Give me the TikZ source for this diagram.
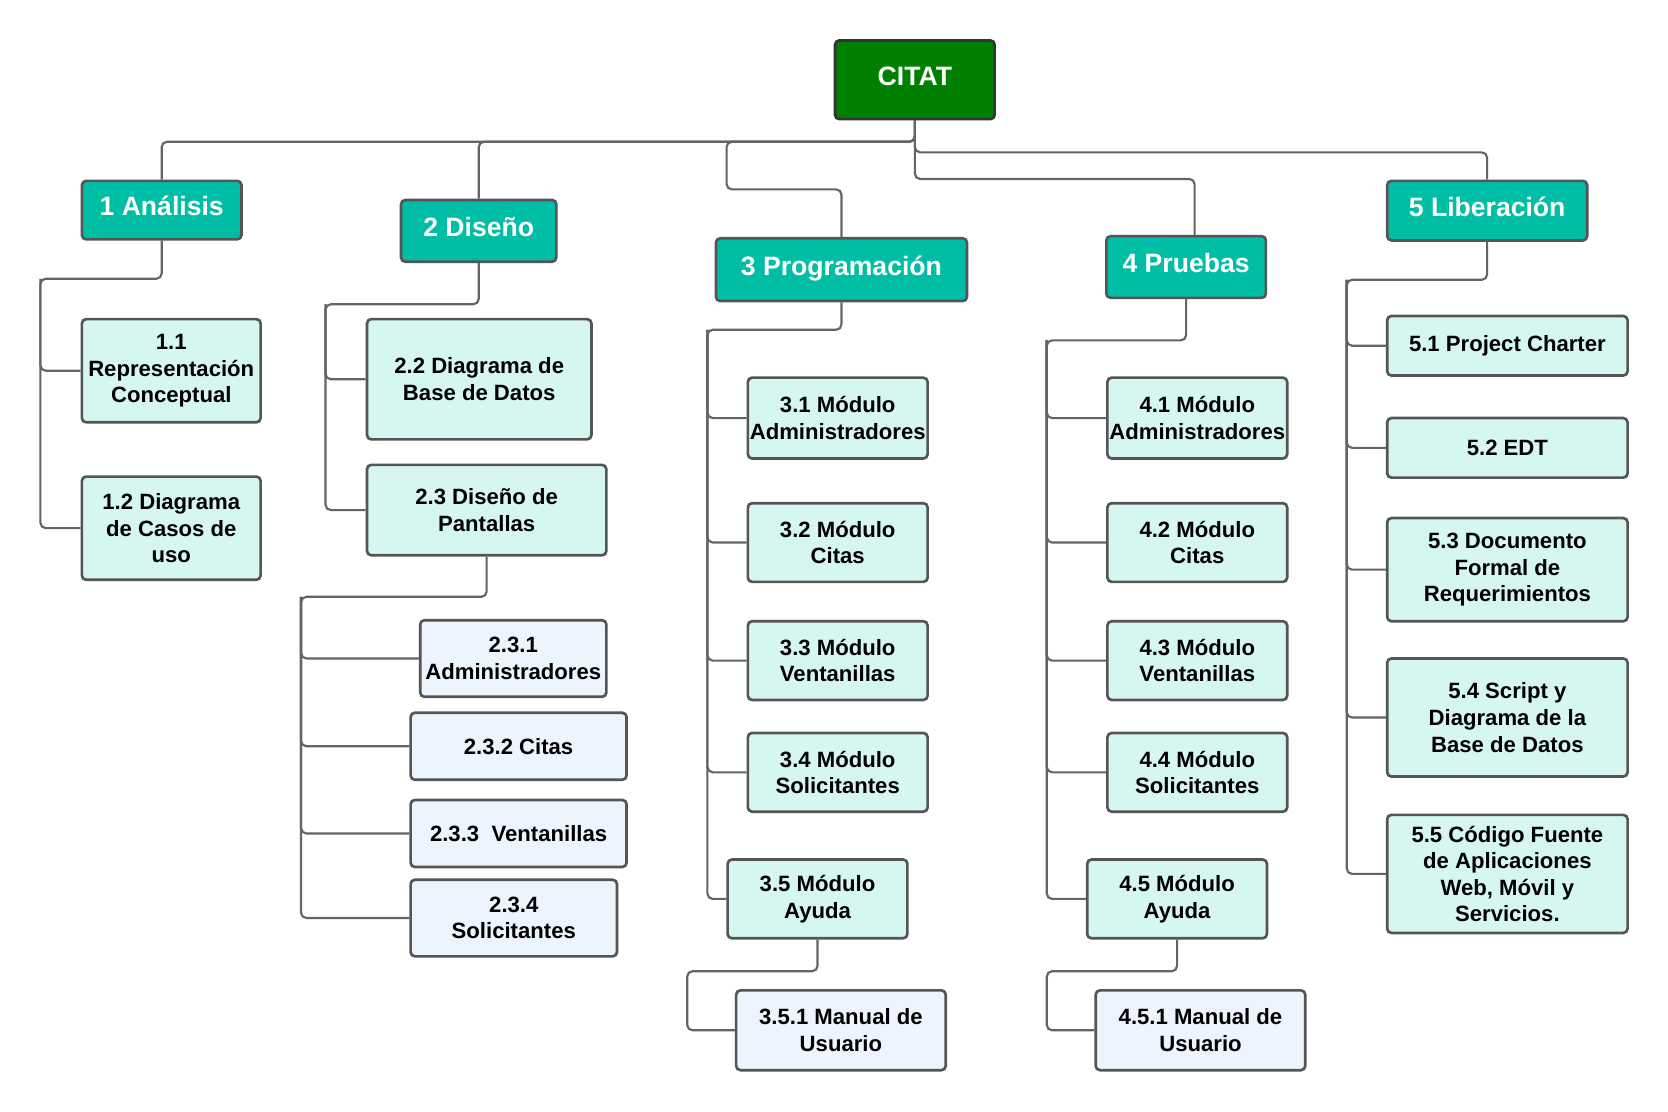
\documentclass[tikz,border=0pt]{standalone}
\usepackage{fontspec}
\setmainfont{Liberation Sans}
\usetikzlibrary{calc}
\definecolor{rootgreen}{RGB}{0,128,0}
\definecolor{tealone}{RGB}{0,190,165}
\definecolor{minttwo}{RGB}{214,247,241}
\definecolor{palethree}{RGB}{236,244,253}
\definecolor{bordergray}{RGB}{85,85,85}
\definecolor{linegray}{RGB}{100,100,100}
\tikzset{
  box/.style={draw=bordergray, line width=2.5pt, rounded corners=4pt, align=center, inner sep=0pt,
    font=\bfseries\fontsize{20.8}{25}\selectfont, text=black},
  rootbox/.style={box, fill=rootgreen, draw=black!80, text=white, font=\bfseries\fontsize{25}{30}\selectfont,
    text height=18pt, text depth=7pt},
  lvlone/.style={box, fill=tealone, text=white, font=\bfseries\fontsize{25}{30}\selectfont,
    text height=18pt, text depth=7pt},
  lvltwo/.style={box, fill=minttwo},
  lvlthree/.style={box, fill=palethree},
  conn/.style={draw=linegray, line width=2pt, rounded corners=5pt},
}
\begin{document}
\begin{tikzpicture}[x=1pt,y=-1pt]
\fill[white] (0,0) rectangle (1568,1045);
\useasboundingbox (0,0) rectangle (1568,1045);

% root and level 1
\node[rootbox, minimum width=150pt, minimum height=74pt] (root) at (860,75) {CITAT};
\node[lvlone, minimum width=150pt, minimum height=55pt] (a1) at (152,197.5) {1 Análisis};
\node[lvlone, minimum width=146pt, minimum height=58pt] (a2) at (450,217) {2 Diseño};
\node[lvlone, minimum width=236pt, minimum height=59pt] (a3) at (791,253.5) {3 Programación};
\node[lvlone, minimum width=150pt, minimum height=58pt] (a4) at (1115,251) {4 Pruebas};
\node[lvlone, minimum width=188pt, minimum height=56pt] (a5) at (1398,198) {5 Liberación};

% branch 1
\node[lvltwo, minimum width=168pt, minimum height=97pt] (n11) at (161,348.5) {1.1\\Representación\\Conceptual};
\node[lvltwo, minimum width=168pt, minimum height=97pt] (n12) at (161,496.5) {1.2 Diagrama\\de Casos de\\uso};

% branch 2
\node[lvltwo, minimum width=211pt, minimum height=113pt] (n22) at (450.5,356.5) {2.2 Diagrama de\\Base de Datos};
\node[lvltwo, minimum width=225pt, minimum height=85pt] (n23) at (457.5,479.5) {2.3 Diseño de\\Pantallas};
\node[lvlthree, minimum width=175pt, minimum height=72pt] (n231) at (482.5,619) {2.3.1\\Administradores};
\node[lvlthree, minimum width=203pt, minimum height=63pt] (n232) at (487.5,701.5) {2.3.2 Citas};
\node[lvlthree, minimum width=203pt, minimum height=63pt] (n233) at (487.5,783.5) {2.3.3~~Ventanillas};
\node[lvlthree, minimum width=194pt, minimum height=72pt] (n234) at (483,863) {2.3.4\\Solicitantes};

% branch 3
\node[lvltwo, minimum width=169pt, minimum height=76pt] (n31) at (787.5,393) {3.1 Módulo\\Administradores};
\node[lvltwo, minimum width=169pt, minimum height=74pt] (n32) at (787.5,510) {3.2 Módulo\\Citas};
\node[lvltwo, minimum width=169pt, minimum height=74pt] (n33) at (787.5,621) {3.3 Módulo\\Ventanillas};
\node[lvltwo, minimum width=169pt, minimum height=74pt] (n34) at (787.5,726) {3.4 Módulo\\Solicitantes};
\node[lvltwo, minimum width=169pt, minimum height=74pt] (n35) at (768.5,845) {3.5 Módulo\\Ayuda};
\node[lvlthree, minimum width=197pt, minimum height=75pt] (n351) at (790.5,968.5) {3.5.1 Manual de\\Usuario};

% branch 4
\node[lvltwo, minimum width=169pt, minimum height=76pt] (n41) at (1125.5,393) {4.1 Módulo\\Administradores};
\node[lvltwo, minimum width=169pt, minimum height=74pt] (n42) at (1125.5,510) {4.2 Módulo\\Citas};
\node[lvltwo, minimum width=169pt, minimum height=74pt] (n43) at (1125.5,621) {4.3 Módulo\\Ventanillas};
\node[lvltwo, minimum width=169pt, minimum height=74pt] (n44) at (1125.5,726) {4.4 Módulo\\Solicitantes};
\node[lvltwo, minimum width=169pt, minimum height=74pt] (n45) at (1106.5,845) {4.5 Módulo\\Ayuda};
\node[lvlthree, minimum width=197pt, minimum height=75pt] (n451) at (1128.5,968.5) {4.5.1 Manual de\\Usuario};

% branch 5
\node[lvltwo, minimum width=226pt, minimum height=56pt] (n51) at (1417,325) {5.1 Project Charter};
\node[lvltwo, minimum width=226pt, minimum height=56pt] (n52) at (1417,421) {5.2 EDT};
\node[lvltwo, minimum width=226pt, minimum height=97pt] (n53) at (1417,535.5) {5.3 Documento\\Formal de\\Requerimientos};
\node[lvltwo, minimum width=226pt, minimum height=111pt] (n54) at (1417,674.5) {5.4 Script y\\Diagrama de la\\Base de Datos};
\node[lvltwo, minimum width=226pt, minimum height=111pt] (n55) at (1417,821.5) {5.5 Código Fuente\\de Aplicaciones\\Web, Móvil y\\Servicios.};

% bus coordinates
\coordinate (b1) at (38,262);
\coordinate (b2) at (306,286);
\coordinate (b23) at (283,561);
\coordinate (b3) at (665,310);
\coordinate (b35) at (646,913);
\coordinate (b4) at (984,320);
\coordinate (b45) at (984,913);
\coordinate (b5) at (1266,263);
\coordinate (b3a) at (683,178);
\coordinate (a4in) at ($(a4.north)+(8,0)$);

% connectors from root
\draw[conn] (root.south) -- ++(0,20) -| (a1.north);
\draw[conn] (root.south) -- ++(0,20) -| (a2.north);
\draw[conn] (root.south) -- ++(0,20) -| (b3a) -| (a3.north);
\draw[conn] (root.south) -- ++(0,55) -| (a4in);
\draw[conn] (root.south) -- ++(0,30) -| (a5.north);

% branch 1
\draw[conn] (a1.south) |- (b1) |- (n11.west);
\draw[conn] (b1) |- (n12.west);
% branch 2
\draw[conn] (a2.south) |- (b2) |- (n22.west);
\draw[conn] (b2) |- (n23.west);
\draw[conn] (n23.south) |- (b23) |- (n231.west);
\draw[conn] (b23) |- (n232.west);
\draw[conn] (b23) |- (n233.west);
\draw[conn] (b23) |- (n234.west);
% branch 3
\draw[conn] (a3.south) |- (b3) |- (n31.west);
\draw[conn] (b3) |- (n32.west);
\draw[conn] (b3) |- (n33.west);
\draw[conn] (b3) |- (n34.west);
\draw[conn] (b3) |- (n35.west);
\draw[conn] (n35.south) |- (b35) |- (n351.west);
% branch 4
\draw[conn] (a4.south) |- (b4) |- (n41.west);
\draw[conn] (b4) |- (n42.west);
\draw[conn] (b4) |- (n43.west);
\draw[conn] (b4) |- (n44.west);
\draw[conn] (b4) |- (n45.west);
\draw[conn] (n45.south) |- (b45) |- (n451.west);
% branch 5
\draw[conn] (a5.south) |- (b5) |- (n51.west);
\draw[conn] (b5) |- (n52.west);
\draw[conn] (b5) |- (n53.west);
\draw[conn] (b5) |- (n54.west);
\draw[conn] (b5) |- (n55.west);
\end{tikzpicture}
\end{document}
